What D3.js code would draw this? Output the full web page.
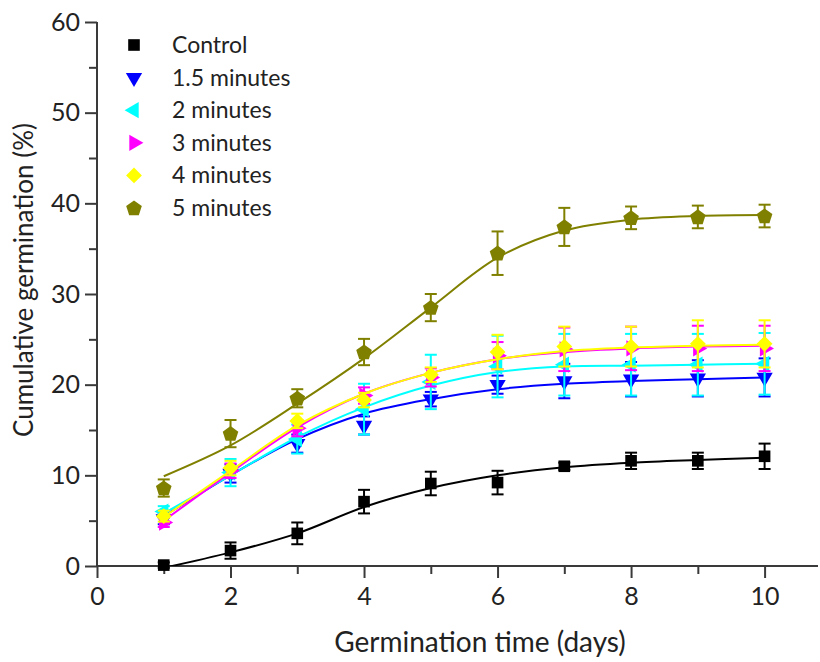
<!DOCTYPE html>
<html>
<head>
<meta charset="utf-8">
<script src="https://cdn.jsdelivr.net/npm/d3@7"></script>
<style>
  body { margin: 0; background: #ffffff; }
  svg { display: block; font-family: Lato, "Open Sans", sans-serif; }
</style>
</head>
<body>
<div id="chart"></div>
<script>
// Chart data
const days = [1, 2, 3, 4, 5, 6, 7, 8, 9, 10];

const controlMean = [0.1, 1.7, 3.6, 7.1, 9.1, 9.2, 11.0, 11.6, 11.6, 12.1];
const controlErr  = [0.3, 0.9, 1.2, 1.3, 1.3, 1.3, 0.4, 0.9, 0.9, 1.4];
const controlFit  = [-0.2, 1.5, 3.6, 6.5, 8.6, 10.0, 10.9, 11.4, 11.7, 11.95];

const min15Mean = [5.2, 10.2, 13.5, 15.5, 18.4, 20.0, 20.4, 20.6, 20.7, 20.8];
const min15Err  = [0.6, 1.0, 1.0, 1.0, 0.8, 1.0, 1.9, 1.9, 2.0, 2.1];
const min15Fit  = [5.5, 10.0, 14.0, 16.8, 18.4, 19.5, 20.1, 20.4, 20.6, 20.8];

const min2Mean = [6.0, 10.3, 14.0, 17.3, 20.3, 22.0, 22.2, 22.2, 22.2, 22.3];
const min2Err  = [0.6, 1.5, 1.6, 2.8, 3.0, 3.4, 3.4, 3.4, 3.4, 3.4];
const min2Fit  = [5.8, 10.0, 14.2, 17.5, 19.9, 21.4, 22.0, 22.1, 22.2, 22.3];

const min3Mean = [4.8, 10.5, 15.2, 18.8, 20.8, 23.2, 23.9, 24.0, 24.0, 24.0];
const min3Err  = [0.5, 0.8, 0.9, 0.9, 1.0, 1.5, 2.4, 2.4, 2.5, 2.5];
const min3Fit  = [5.0, 10.3, 15.3, 19.0, 21.3, 22.8, 23.6, 24.0, 24.2, 24.3];

const min4Mean = [5.5, 10.8, 16.0, 18.3, 21.1, 23.6, 24.2, 24.2, 24.5, 24.5];
const min4Err  = [0.6, 0.8, 0.8, 0.8, 0.8, 1.9, 2.2, 2.2, 2.6, 2.6];
const min4Fit  = [5.4, 10.5, 15.5, 19.0, 21.3, 22.8, 23.7, 24.1, 24.3, 24.4];

const min5Mean = [8.6, 14.6, 18.5, 23.6, 28.5, 34.5, 37.4, 38.4, 38.5, 38.6];
const min5Err  = [0.95, 1.5, 1.0, 1.45, 1.5, 2.4, 2.1, 1.25, 1.25, 1.25];
const min5Fit  = [9.9, 13.3, 17.9, 22.9, 28.5, 34.0, 37.0, 38.2, 38.6, 38.7];

const seriesNames = ["Control", "1.5 minutes", "2 minutes", "3 minutes", "4 minutes", "5 minutes"];
const seriesColors = ["#000000", "#0000ff", "#00ffff", "#ff00ff", "#ffff00", "#808000"];
const seriesShapes = ["square", "down", "left", "right", "diamond", "pentagon"];

const xMajorTicks = [0, 2, 4, 6, 8, 10];
const xMinorTicks = [1, 3, 5, 7, 9];
const yMajorTicks = [0, 10, 20, 30, 40, 50, 60];
const yMinorTicks = [5, 15, 25, 35, 45, 55];

const series = [
    { mean: controlMean, err: controlErr, fit: controlFit },
    { mean: min15Mean, err: min15Err, fit: min15Fit },
    { mean: min2Mean, err: min2Err, fit: min2Fit },
    { mean: min3Mean, err: min3Err, fit: min3Fit },
    { mean: min4Mean, err: min4Err, fit: min4Fit },
    { mean: min5Mean, err: min5Err, fit: min5Fit }
].map((s, i) => ({ ...s, name: seriesNames[i], color: seriesColors[i], shape: seriesShapes[i] }));

// Layout
const width = 820;
const height = 662;
const plotLeft = 97, plotRight = 818, plotTop = 22, plotBottom = 566;

const svg = d3.select("#chart")
    .append("svg")
    .attr("width", width)
    .attr("height", height);

const x = d3.scaleLinear().domain([0, 10.8]).range([plotLeft, plotRight]);
const y = d3.scaleLinear().domain([0, 60]).range([plotBottom, plotTop]);

// Marker path generator
function markerPath(shape) {
    if (shape === "square") return d3.symbol(d3.symbolSquare, 135)();
    if (shape === "diamond") return d3.symbol(d3.symbolSquare, 125)();
    if (shape === "pentagon") {
        const r = 8.2;
        const pts = d3.range(5).map(k => {
            const a = -Math.PI / 2 + k * 2 * Math.PI / 5;
            return [r * Math.cos(a), r * Math.sin(a) + 0.6];
        });
        return "M" + pts.map(p => p.join(",")).join("L") + "Z";
    }
    return d3.symbol(d3.symbolTriangle, 115)();
}

function markerRotate(shape) {
    return { down: 180, left: -90, right: 90, diamond: 45 }[shape] || 0;
}

// Axes
const axisColor = "#3a3a3a";

const yAxis = svg.append("g")
    .attr("transform", `translate(${plotLeft},0)`)
    .call(d3.axisLeft(y).tickValues(yMajorTicks).tickSize(12).tickPadding(5).tickFormat(d3.format("d")));

svg.append("g")
    .attr("transform", `translate(${plotLeft},0)`)
    .call(d3.axisLeft(y).tickValues(yMinorTicks).tickSize(8).tickFormat(""))
    .call(g => g.select(".domain").remove());

const xAxis = svg.append("g")
    .attr("transform", `translate(0,${plotBottom})`)
    .call(d3.axisBottom(x).tickValues(xMajorTicks).tickSize(12).tickPadding(9).tickFormat(d3.format("d")));

svg.append("g")
    .attr("transform", `translate(0,${plotBottom})`)
    .call(d3.axisBottom(x).tickValues(xMinorTicks).tickSize(8).tickFormat(""))
    .call(g => g.select(".domain").remove());

// straight axis lines without the outer end ticks
yAxis.select(".domain").attr("d", `M0,${plotTop}V${plotBottom}`);
xAxis.select(".domain").attr("d", `M${plotLeft},0H${plotRight}`);

svg.selectAll(".domain")
    .attr("stroke", axisColor)
    .attr("stroke-width", 2);

svg.selectAll(".tick line")
    .attr("stroke", axisColor)
    .attr("stroke-width", 2);

svg.selectAll(".tick text")
    .attr("fill", "#222")
    .style("font-size", "25px")
    .style("font-family", "Lato, sans-serif");

// Axis titles
svg.append("text")
    .attr("transform", "translate(33,280) rotate(-90)")
    .attr("text-anchor", "middle")
    .attr("fill", "#222")
    .style("font-size", "26px")
    .text("Cumulative germination (%)");

svg.append("text")
    .attr("x", 480)
    .attr("y", 652)
    .attr("text-anchor", "middle")
    .attr("fill", "#222")
    .style("font-size", "28px")
    .text("Germination time (days)");

// Plot series
svg.append("clipPath")
    .attr("id", "plot-clip")
    .append("rect")
    .attr("x", plotLeft)
    .attr("y", plotTop)
    .attr("width", plotRight - plotLeft)
    .attr("height", plotBottom - plotTop);

const fitLine = d3.line()
    .x((d, i) => x(days[i]))
    .y(d => y(d))
    .curve(d3.curveCatmullRom.alpha(0.5));

const plot = svg.append("g");

series.forEach(s => {
    const g = plot.append("g").attr("class", "series");

    g.append("path")
        .attr("clip-path", "url(#plot-clip)")
        .attr("d", fitLine(s.fit))
        .attr("fill", "none")
        .attr("stroke", s.color)
        .attr("stroke-width", 2);

    // Error bars
    const bars = g.selectAll(".err")
        .data(days.map((d, i) => ({ d, m: s.mean[i], e: s.err[i] })))
        .join("g")
        .attr("class", "err")
        .attr("stroke", s.color)
        .attr("stroke-width", 2);

    bars.append("line")
        .attr("x1", d => x(d.d)).attr("x2", d => x(d.d))
        .attr("y1", d => y(d.m - d.e)).attr("y2", d => y(d.m + d.e));
    bars.append("line")
        .attr("x1", d => x(d.d) - 6).attr("x2", d => x(d.d) + 6)
        .attr("y1", d => y(d.m + d.e)).attr("y2", d => y(d.m + d.e));
    bars.append("line")
        .attr("x1", d => x(d.d) - 6).attr("x2", d => x(d.d) + 6)
        .attr("y1", d => y(d.m - d.e)).attr("y2", d => y(d.m - d.e));

    // Markers
    g.selectAll(".marker")
        .data(days.map((d, i) => ({ d, m: s.mean[i] })))
        .join("path")
        .attr("class", "marker")
        .attr("d", markerPath(s.shape))
        .attr("transform", d => `translate(${x(d.d)},${y(d.m)}) rotate(${markerRotate(s.shape)})`)
        .attr("fill", s.color);
});

// Legend
const legend = svg.append("g").attr("class", "legend");
series.forEach((s, i) => {
    const ly = 45 + i * 32.6;
    legend.append("path")
        .attr("d", markerPath(s.shape))
        .attr("transform", `translate(134,${ly}) rotate(${markerRotate(s.shape)})`)
        .attr("fill", s.color);
    legend.append("text")
        .attr("x", 172)
        .attr("y", ly)
        .attr("dy", "0.35em")
        .attr("fill", "#222")
        .style("font-size", "23px")
        .text(s.name);
});
</script>
</body>
</html>
